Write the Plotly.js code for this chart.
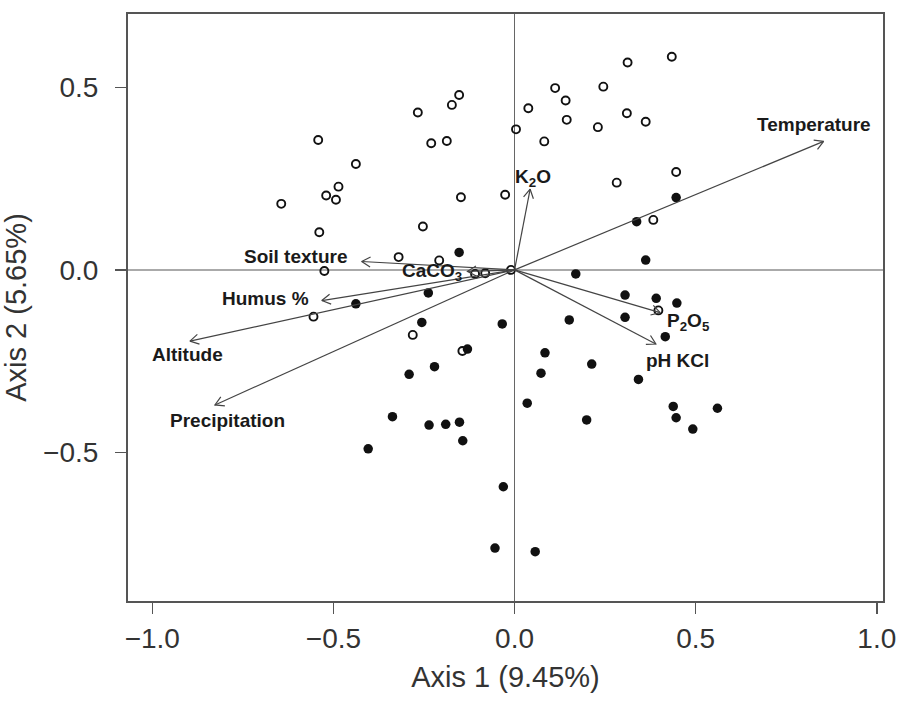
<!DOCTYPE html>
<html>
<head>
<meta charset="utf-8">
<script src="https://cdn.plot.ly/plotly-3.0.1.min.js"></script>
<style>html,body{margin:0;padding:0;background:#fff;}#chart{width:903px;height:709px;}</style>
</head>
<body>
<div id="chart"></div>
<script>
// Site scores, group 1 (open circles)
const openX = [-0.153,-0.173,-0.267,-0.230,-0.187,-0.542,-0.438,-0.486,-0.520,-0.493,-0.644,-0.148,-0.026,0.004,-0.539,-0.253,-0.320,-0.208,-0.525,-0.109,-0.081,-0.010,0.434,0.312,0.112,0.245,0.141,0.038,0.144,0.310,0.362,0.230,0.082,0.446,0.282,0.383,0.397,-0.144,-0.281,-0.555];
const openY = [0.479,0.452,0.431,0.347,0.353,0.356,0.290,0.228,0.204,0.192,0.181,0.199,0.206,0.385,0.103,0.119,0.035,0.026,-0.003,-0.011,-0.009,0.000,0.584,0.568,0.498,0.502,0.464,0.443,0.411,0.429,0.406,0.391,0.352,0.268,0.239,0.137,-0.111,-0.222,-0.178,-0.128];
// Site scores, group 2 (filled circles)
const fillX = [-0.153,-0.238,-0.438,-0.256,-0.034,-0.130,-0.221,-0.291,-0.337,-0.236,-0.190,-0.152,-0.143,-0.404,-0.031,-0.054,0.057,0.446,0.337,0.362,0.169,0.305,0.391,0.448,0.151,0.305,0.416,0.084,0.213,0.073,0.342,0.035,0.438,0.560,0.446,0.199,0.492];
const fillY = [0.048,-0.063,-0.093,-0.144,-0.148,-0.217,-0.265,-0.286,-0.402,-0.425,-0.423,-0.417,-0.468,-0.490,-0.594,-0.762,-0.772,0.198,0.132,0.027,-0.011,-0.069,-0.078,-0.091,-0.137,-0.130,-0.183,-0.227,-0.258,-0.283,-0.300,-0.365,-0.374,-0.379,-0.405,-0.411,-0.436];
// Environmental vectors (arrow tips) and their label positions
const vecNames = ["Temperature","K<sub>2</sub>O","Soil texture","CaCO<sub>3</sub>","Humus %","Altitude","Precipitation","P<sub>2</sub>O<sub>5</sub>","pH KCl"];
const vecX = [0.853,0.043,-0.422,-0.130,-0.532,-0.896,-0.827,0.402,0.390];
const vecY = [0.352,0.221,0.023,-0.004,-0.084,-0.195,-0.370,-0.117,-0.203];
const labX = [0.827,0.052,-0.605,-0.229,-0.687,-0.902,-0.791,0.480,0.450];
const labY = [0.397,0.251,0.036,-0.005,-0.078,-0.233,-0.413,-0.144,-0.247];
const xTicks = [-1.0,-0.5,0.0,0.5,1.0];
const yTicks = [-0.5,0.0,0.5];

const FONT = '"Liberation Sans", Arial, Helvetica, sans-serif';
const W = 903, H = 709;
const M = {l: 128, r: 20, t: 14, b: 108};
const XR = [-1.067, 1.017], YR = [-0.907, 0.701];

// pixel scale of the axes, used to give arrowheads a fixed on-screen size
const pxX = (W - M.l - M.r) / (XR[1] - XR[0]);
const pxY = (H - M.t - M.b) / (YR[1] - YR[0]);
const headLen = 10, headAng = 30 * Math.PI / 180;

const shaftX = [], shaftY = [], headX = [], headY = [];
for (let i = 0; i < vecX.length; i++) {
  shaftX.push(0, vecX[i], null);
  shaftY.push(0, vecY[i], null);
  const dx = vecX[i] * pxX, dy = vecY[i] * pxY;
  const L = Math.hypot(dx, dy);
  const bx = -dx / L, by = -dy / L;
  const pts = [headAng, -headAng].map(a => {
    const rx = bx * Math.cos(a) - by * Math.sin(a);
    const ry = bx * Math.sin(a) + by * Math.cos(a);
    return [vecX[i] + headLen * rx / pxX, vecY[i] + headLen * ry / pxY];
  });
  headX.push(pts[0][0], vecX[i], pts[1][0], null);
  headY.push(pts[0][1], vecY[i], pts[1][1], null);
}

const traces = [
  {x: openX, y: openY, type: 'scatter', mode: 'markers', name: 'group 1',
   marker: {symbol: 'circle-open', size: 8, color: '#111', line: {width: 1.9, color: '#111'}}},
  {x: fillX, y: fillY, type: 'scatter', mode: 'markers', name: 'group 2',
   marker: {symbol: 'circle', size: 9.5, color: '#111'}},
  {x: shaftX, y: shaftY, type: 'scatter', mode: 'lines', name: 'vectors',
   line: {color: '#444', width: 1.2}, hoverinfo: 'skip'},
  {x: headX, y: headY, type: 'scatter', mode: 'lines', name: 'heads',
   line: {color: '#444', width: 1.2}, hoverinfo: 'skip'}
];

const annotations = vecNames.map((n, i) => ({
  x: labX[i], y: labY[i], xref: 'x', yref: 'y', text: '<b>' + n + '</b>',
  showarrow: false, xanchor: 'center', yanchor: 'middle',
  font: {family: FONT, size: 19, color: '#1a1a1a'}
}));

const layout = {
  width: W, height: H,
  margin: {l: M.l, r: M.r, t: M.t, b: M.b, pad: 0},
  paper_bgcolor: '#fff', plot_bgcolor: '#fff',
  showlegend: false,
  font: {family: FONT, color: '#333'},
  xaxis: {
    range: XR, tickvals: xTicks, tickformat: '.1f',
    ticks: 'outside', ticklen: 11, tickwidth: 1.5, tickcolor: '#555',
    ticklabelstandoff: 0,
    tickfont: {family: FONT, size: 28, color: '#333'},
    showline: true, mirror: true, linecolor: '#555', linewidth: 2,
    showgrid: false, zeroline: true, zerolinecolor: '#666', zerolinewidth: 1.2,
    title: {text: 'Axis 1 (9.45%)', font: {family: FONT, size: 29, color: '#333'}, standoff: 14}
  },
  yaxis: {
    range: YR, tickvals: yTicks, tickformat: '.1f',
    ticks: 'outside', ticklen: 11, tickwidth: 1.5, tickcolor: '#555',
    ticklabelstandoff: 11,
    tickfont: {family: FONT, size: 28, color: '#333'},
    showline: true, mirror: true, linecolor: '#555', linewidth: 2,
    showgrid: false, zeroline: true, zerolinecolor: '#aaa', zerolinewidth: 2,
    title: {text: 'Axis 2 (5.65%)', font: {family: FONT, size: 29, color: '#333'}, standoff: 8}
  },
  annotations: annotations
};

Plotly.newPlot('chart', traces, layout, {displayModeBar: false, staticPlot: true});
</script>
</body>
</html>
